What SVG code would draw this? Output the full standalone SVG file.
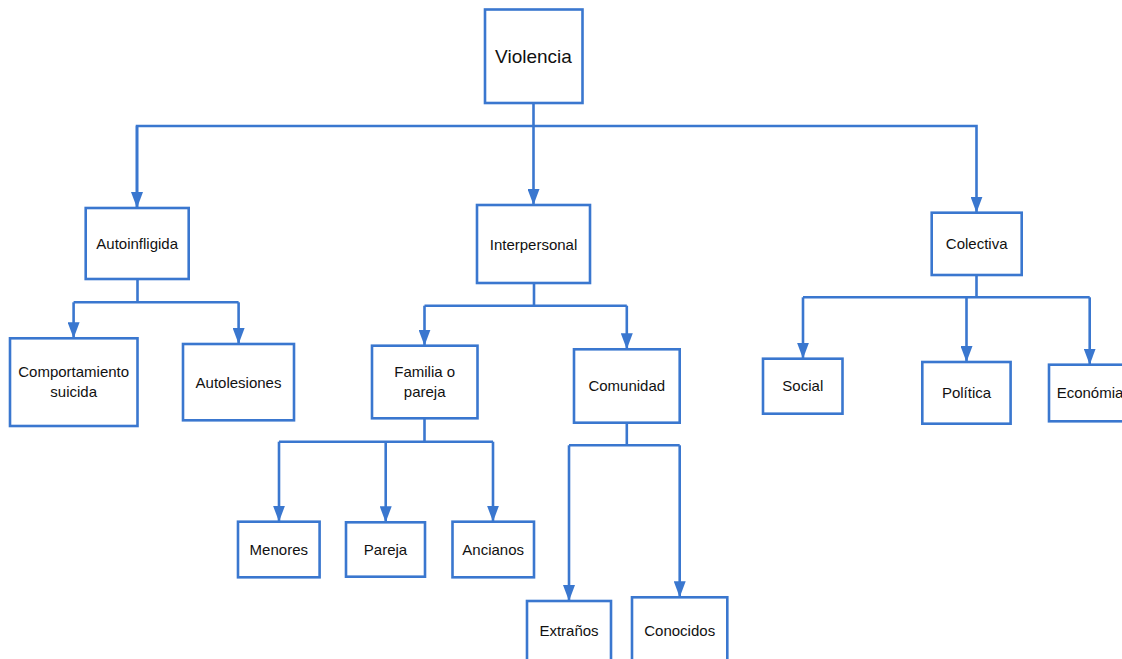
<svg xmlns="http://www.w3.org/2000/svg" width="1122" height="659" viewBox="0 0 1122 659">
<style>
.box{fill:#fff;stroke:#3A77CF;stroke-width:2.6}
.ln{fill:none;stroke:#3A77CF;stroke-width:2.6}
text{font-family:"Liberation Sans",Arial,sans-serif;font-size:15px;fill:#111;text-anchor:middle;dominant-baseline:central}
</style>
<defs>
<marker id="ah" markerUnits="userSpaceOnUse" viewBox="0 0 16 12" refX="16" refY="6" markerWidth="16" markerHeight="12" orient="auto">
<path d="M0,0 L16,6 L0,12 Z" fill="#3A77CF"/>
</marker>
</defs>
<rect width="1122" height="659" fill="#fff"/>
<g id="connectors">
<path class="ln" d="M533.5,103 V126"/>
<path class="ln" d="M137,208 V126 H976.5 V212.7" marker-end="url(#ah)"/>
<path class="ln" d="M137,126 V208" marker-end="url(#ah)"/>
<path class="ln" d="M533.5,126 V205" marker-end="url(#ah)"/>
<path class="ln" d="M137.5,279 V302.3"/>
<path class="ln" d="M73.6,302.3 H238.6"/>
<path class="ln" d="M73.6,302.3 V338.3" marker-end="url(#ah)"/>
<path class="ln" d="M238.6,302.3 V344" marker-end="url(#ah)"/>
<path class="ln" d="M534,283 V305.7"/>
<path class="ln" d="M424.5,305.7 H626.8"/>
<path class="ln" d="M424.5,305.7 V345.7" marker-end="url(#ah)"/>
<path class="ln" d="M626.8,305.7 V349.3" marker-end="url(#ah)"/>
<path class="ln" d="M424.5,418.3 V441.7"/>
<path class="ln" d="M279,441.7 H493"/>
<path class="ln" d="M279,441.7 V521.7" marker-end="url(#ah)"/>
<path class="ln" d="M385.7,441.7 V522.3" marker-end="url(#ah)"/>
<path class="ln" d="M493,441.7 V521.7" marker-end="url(#ah)"/>
<path class="ln" d="M626.8,422.7 V445.3"/>
<path class="ln" d="M569,445.3 H679.7"/>
<path class="ln" d="M569,445.3 V601" marker-end="url(#ah)"/>
<path class="ln" d="M679.7,445.3 V597.3" marker-end="url(#ah)"/>
<path class="ln" d="M976.5,275 V297.3"/>
<path class="ln" d="M803,297.3 H1089.7"/>
<path class="ln" d="M803,297.3 V358.7" marker-end="url(#ah)"/>
<path class="ln" d="M966.5,297.3 V362" marker-end="url(#ah)"/>
<path class="ln" d="M1089.7,297.3 V364.7" marker-end="url(#ah)"/>
</g>
<g id="violencia"><rect class="box" x="485" y="9.5" width="97.5" height="93.5"/><text x="533.5" y="56" style="font-size:19px">Violencia</text></g>
<g id="autoinfligida"><rect class="box" x="85.7" y="208" width="103" height="71"/><text x="137.2" y="243.5">Autoinfligida</text></g>
<g id="interpersonal"><rect class="box" x="477" y="205" width="113" height="78"/><text x="533.5" y="244">Interpersonal</text></g>
<g id="colectiva"><rect class="box" x="931.7" y="212.7" width="90" height="62.3"/><text x="976.7" y="243.5">Colectiva</text></g>
<g id="comportamiento"><rect class="box" x="10" y="338.3" width="127.5" height="87.7"/><text x="73.7" y="371.7">Comportamiento</text><text x="73.7" y="391.7">suicida</text></g>
<g id="autolesiones"><rect class="box" x="183" y="344" width="111" height="76.3"/><text x="238.5" y="382.2">Autolesiones</text></g>
<g id="familia"><rect class="box" x="372" y="345.7" width="105.5" height="72.6"/><text x="424.7" y="371.7">Familia o</text><text x="424.7" y="391.7">pareja</text></g>
<g id="comunidad"><rect class="box" x="574" y="349.3" width="105.7" height="73.4"/><text x="626.8" y="385.5">Comunidad</text></g>
<g id="social"><rect class="box" x="763" y="358.7" width="79.5" height="55"/><text x="802.8" y="385.5">Social</text></g>
<g id="politica"><rect class="box" x="922.3" y="362" width="88.3" height="61.7"/><text x="966.5" y="392">Política</text></g>
<g id="economia"><rect class="box" x="1049" y="364.7" width="82" height="56.6"/><text x="1090" y="392">Económia</text></g>
<g id="menores"><rect class="box" x="238" y="521.7" width="81.6" height="55.6"/><text x="278.8" y="549.3">Menores</text></g>
<g id="pareja"><rect class="box" x="346" y="522.3" width="79" height="54.4"/><text x="385.5" y="549.3">Pareja</text></g>
<g id="ancianos"><rect class="box" x="452.5" y="521.7" width="81.5" height="55.6"/><text x="493.2" y="549.3">Ancianos</text></g>
<g id="extranos"><rect class="box" x="527" y="601" width="84" height="65"/><text x="569" y="630">Extraños</text></g>
<g id="conocidos"><rect class="box" x="632" y="597.3" width="95.3" height="70"/><text x="679.7" y="630">Conocidos</text></g>
</svg>
